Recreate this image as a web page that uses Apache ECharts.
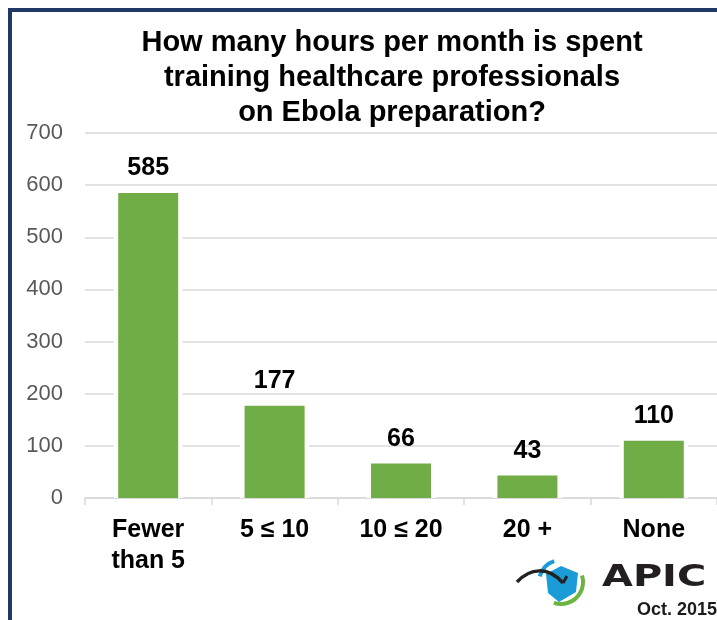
<!DOCTYPE html>
<html><head><meta charset="utf-8">
<script src="https://cdn.jsdelivr.net/npm/echarts@6/dist/echarts.min.js"></script>
<style>html,body{margin:0;padding:0;background:#fff}#c{width:717px;height:620px}</style>
</head><body><div id="c"></div>
<script>
const categories = ['Fewer\nthan 5', '5 \u2264 10', '10 \u2264 20', '20 +', 'None'];
const values = [585, 177, 66, 43, 110];
const yTicks = { min: 0, max: 700, interval: 100 };
const titleLines = ['How many hours per month is spent', 'training healthcare professionals', 'on Ebola preparation?'];

const chart = echarts.init(document.getElementById('c'), null, { renderer: 'canvas' });
chart.setOption({
  backgroundColor: '#fff',
  animation: false,
  title: {
    text: titleLines.join('\n'),
    left: 387, top: 20, textAlign: 'center',
    textStyle: { fontFamily: 'Liberation Sans', fontWeight: 'bold', fontSize: 29, lineHeight: 35, color: '#000' }
  },
  grid: { left: 85, right: -3, top: 133, bottom: 122, containLabel: false },
  xAxis: [{
    type: 'category', data: categories,
    axisLine: { lineStyle: { color: '#d9d9d9', width: 1.5 } },
    axisTick: { show: true, length: 7, lineStyle: { color: '#d9d9d9', width: 1.5 } },
    axisLabel: { fontFamily: 'Liberation Sans', fontWeight: 'bold', fontSize: 25, lineHeight: 31, color: '#000', margin: 17 }
  }, {
    type: 'category', data: categories, show: false
  }],
  yAxis: {
    type: 'value', min: yTicks.min, max: yTicks.max, interval: yTicks.interval,
    axisLine: { show: false }, axisTick: { show: false },
    splitLine: { lineStyle: { color: '#d9d9d9', width: 1.5 } },
    axisLabel: { fontFamily: 'Liberation Sans', fontSize: 22, color: '#595959', margin: 22 }
  },
  series: [{
    type: 'bar', xAxisIndex: 1, data: values, barWidth: 69, z: 1,
    itemStyle: { color: '#ffffff' }, silent: true
  }, {
    type: 'bar', xAxisIndex: 0, data: values, barWidth: 60, z: 2,
    itemStyle: { color: '#70ad47' },
    label: { show: true, position: 'top', distance: 12, fontFamily: 'Liberation Sans', fontWeight: 'bold', fontSize: 25, color: '#000' }
  }],
  graphic: [
    { type: 'rect', shape: { x: 8, y: 8, width: 720, height: 4 }, style: { fill: '#1f3864' }, z: 100 },
    { type: 'rect', shape: { x: 8, y: 8, width: 4, height: 620 }, style: { fill: '#1f3864' }, z: 100 },
    { type: 'arc', shape: { cx: 561, cy: 582, r: 22, startAngle: -0.3, endAngle: 1.9 }, style: { stroke: '#6cb33f', lineWidth: 4, fill: null }, z: 100 },
    { type: 'arc', shape: { cx: 561, cy: 582, r: 22, startAngle: 3.4, endAngle: 4.4 }, style: { stroke: '#1b9bd7', lineWidth: 4, fill: null }, z: 100 },
    { type: 'polygon', shape: { points: [[546, 574], [561, 566], [578, 573], [576, 592], [559, 602], [548, 593]] }, style: { fill: '#1b9bd7' }, z: 100 },
    { type: 'bezierCurve', shape: { x1: 517, y1: 582, cpx1: 530, cpy1: 568, cpx2: 548, cpy2: 566, x2: 563, y2: 583 }, style: { stroke: '#222', lineWidth: 3.5, fill: null }, z: 101 },
    { type: 'polyline', shape: { points: [[563, 583], [567, 576]] }, style: { stroke: '#222', lineWidth: 3 }, z: 101 },
    { type: 'text', x: 602, y: 563, scaleX: 1.33, style: { text: 'APIC', fontFamily: 'DejaVu Sans', fontWeight: 'bold', fontSize: 30, fill: '#231f20' }, z: 100 },
    { type: 'text', x: 637, y: 601, style: { text: 'Oct. 2015', fontFamily: 'Liberation Sans', fontWeight: 'bold', fontSize: 18, fill: '#1a1a1a' }, z: 100 }
  ]
});
</script>
</body></html>
